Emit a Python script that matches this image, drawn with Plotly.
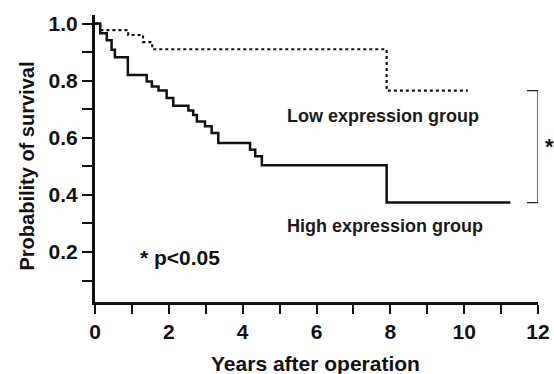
import plotly.graph_objects as go

# Kaplan-Meier step data (years, survival probability)
high_t = [0, 0.14, 0.32, 0.45, 0.54, 0.89, 1.4, 1.54, 1.72, 1.94, 2.12, 2.53, 2.66, 2.76, 2.98, 3.16, 3.34, 4.2, 4.34, 4.52, 7.9, 11.25]
high_s = [1.0, 0.966, 0.942, 0.908, 0.882, 0.82, 0.797, 0.78, 0.766, 0.739, 0.712, 0.696, 0.68, 0.657, 0.64, 0.617, 0.582, 0.558, 0.535, 0.504, 0.373, 0.373]

low_t = [0, 0.14, 0.9, 1.3, 1.55, 7.9, 10.1]
low_s = [1.0, 0.977, 0.96, 0.935, 0.91, 0.765, 0.765]

x_ticks = list(range(0, 13))
x_ticklabels = [str(v) if v % 2 == 0 else "" for v in x_ticks]
y_ticks = [0.1, 0.2, 0.3, 0.4, 0.5, 0.6, 0.7, 0.8, 0.9, 1.0]
y_ticklabels = ["", "0.2", "", "0.4", "", "0.6", "", "0.8", "", "1.0"]

FONT = "Liberation Sans, Arial, sans-serif"
INK = "#111"

fig = go.Figure()
fig.add_trace(go.Scatter(x=low_t, y=low_s, mode="lines", line_shape="hv",
                         line=dict(color=INK, width=2.2, dash="dot"), showlegend=False))
fig.add_trace(go.Scatter(x=high_t, y=high_s, mode="lines", line_shape="hv",
                         line=dict(color=INK, width=2.5), showlegend=False))

# significance bracket
bx0, bx1 = 11.7, 12.0
fig.add_shape(type="path",
              path=f"M {bx0},{low_s[-1]} L {bx1},{low_s[-1]} L {bx1},{high_s[-1]} L {bx0},{high_s[-1]}",
              line=dict(color="#222", width=1.3), xref="x", yref="y")

fig.add_annotation(xref="paper", yref="y", x=1.027, y=0.57, text="<b>*</b>", showarrow=False,
                   xanchor="center", font=dict(family=FONT, size=22, color=INK))
fig.add_annotation(x=7.8, y=0.675, text="<b>Low expression group</b>", showarrow=False,
                   font=dict(family=FONT, size=18, color="#1a1a1a"))
fig.add_annotation(x=7.85, y=0.29, text="<b>High expression group</b>", showarrow=False,
                   font=dict(family=FONT, size=18, color="#1a1a1a"))
fig.add_annotation(x=2.3, y=0.18, text="<b>* p<0.05</b>", showarrow=False,
                   font=dict(family=FONT, size=21, color=INK))

# axis titles
fig.add_annotation(xref="paper", yref="paper", x=(315 - 95) / 443, y=(374 - 363 - 72) / 287,
                   text="<b>Years after operation</b>", showarrow=False,
                   xanchor="center", yanchor="middle", font=dict(family=FONT, size=21, color=INK))
fig.add_annotation(xref="paper", yref="paper", x=(26 - 95) / 443, y=(374 - 166.5 - 72) / 287,
                   text="<b>Probability of survival</b>", showarrow=False, textangle=-90,
                   xanchor="center", yanchor="middle", font=dict(family=FONT, size=20, color=INK))

fig.update_xaxes(range=[0, 12], tickvals=x_ticks, ticktext=x_ticklabels, automargin=False,
                 ticks="outside", ticklen=9, tickwidth=1.5, tickcolor=INK,
                 showline=True, linecolor=INK, linewidth=3, showgrid=False, zeroline=False,
                 tickfont=dict(family=FONT, size=21, color=INK, weight="bold"))
fig.update_yaxes(range=[0.025, 1.03], tickvals=y_ticks, ticktext=y_ticklabels, automargin=False,
                 ticks="outside", ticklen=10, tickwidth=1.5, tickcolor=INK,
                 showline=True, linecolor=INK, linewidth=3, showgrid=False, zeroline=False,
                 tickfont=dict(family=FONT, size=21, color=INK, weight="bold"))

fig.update_layout(width=554, height=374, margin=dict(l=95, r=16, t=15, b=72),
                  plot_bgcolor="white", paper_bgcolor="white")

fig.write_html("out.html", config={"displayModeBar": False},
               post_script="document.body.style.margin='0';")
